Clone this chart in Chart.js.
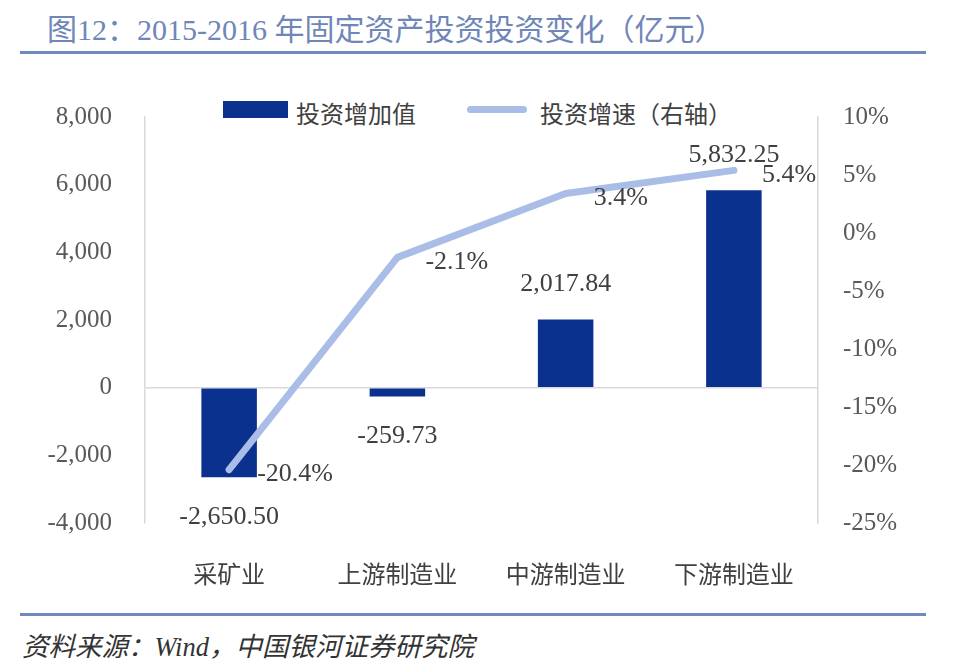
<!DOCTYPE html>
<html>
<head>
<meta charset="utf-8">
<script src="https://cdn.jsdelivr.net/npm/chart.js@4"></script>
<style>
  body { margin: 0; width: 972px; height: 672px; background: #fff; position: relative; overflow: hidden;
         font-family: 'Liberation Serif', 'Noto Sans CJK SC', serif; }
  .title { position: absolute; left: 47px; top: 5px; font-size: 30px; color: #6f86b9; white-space: nowrap; }
  .rule { position: absolute; left: 20px; width: 906px; height: 3px; background: #6f88bd; }
  .source { position: absolute; left: 22px; top: 625px; font-size: 26.5px; font-style: italic; color: #333; white-space: nowrap; }
  .legend { position: absolute; top: 95px; font-size: 24px; color: #404040; white-space: nowrap; }
  .box { position: absolute; left: 223px; top: 101px; width: 65px; height: 17px; background: #0b318f; }
  .ln { position: absolute; left: 467px; top: 106px; width: 60px; height: 7px; border-radius: 4px; background: #a9bde6; }
  #wrap { position: absolute; left: 0; top: 60px; width: 972px; height: 540px; }
</style>
</head>
<body>
<div class="title">图12：2015-2016 年固定资产投资投资变化（亿元）</div>
<div class="rule" style="top:51px"></div>
<div class="box"></div><div class="legend" style="left:296px">投资增加值</div>
<div class="ln"></div><div class="legend" style="left:540px">投资增速（右轴）</div>
<div id="wrap"><canvas id="chart"></canvas></div>
<div class="rule" style="top:613px"></div>
<div class="source">资料来源：Wind，中国银河证券研究院</div>
<script>
const categories = ['采矿业', '上游制造业', '中游制造业', '下游制造业'];
const addedValue = [-2650.50, -259.73, 2017.84, 5832.25];
const growthRate = [-20.4, -2.1, 3.4, 5.4];

const FONT = "'Liberation Serif', 'Noto Sans CJK SC', serif";
const fmt = v => v.toLocaleString('en-US', { minimumFractionDigits: 2, maximumFractionDigits: 2 });

const labelPlugin = {
  id: 'valueLabels',
  afterDatasetsDraw(chart) {
    const ctx = chart.ctx;
    ctx.save();
    ctx.font = '26px ' + FONT;
    ctx.fillStyle = '#404040';
    ctx.textBaseline = 'middle';
    chart.getDatasetMeta(0).data.forEach((el, i) => {
      const v = addedValue[i];
      ctx.textAlign = 'center';
      ctx.fillText(fmt(v), el.x, v >= 0 ? el.y - 35 : Math.max(el.y, el.base) + 40);
    });
    chart.getDatasetMeta(1).data.forEach((el, i) => {
      ctx.textAlign = 'left';
      ctx.fillText(growthRate[i].toFixed(1) + '%', el.x + 28, el.y + 5);
    });
    ctx.restore();
  }
};

new Chart(document.getElementById('chart'), {
  data: {
    labels: categories,
    datasets: [
      {
        type: 'bar',
        label: '投资增加值',
        data: addedValue,
        backgroundColor: '#0b318f',
        barPercentage: 0.33,
        categoryPercentage: 1,
        yAxisID: 'y',
        order: 2
      },
      {
        type: 'line',
        label: '投资增速（右轴）',
        data: growthRate,
        borderColor: '#a9bde6',
        borderWidth: 7,
        borderCapStyle: 'round',
        borderJoinStyle: 'round',
        pointRadius: 0,
        tension: 0,
        yAxisID: 'y1',
        order: 1
      }
    ]
  },
  options: {
    responsive: true,
    maintainAspectRatio: false,
    animation: false,
    layout: { padding: { top: 57, left: 0, right: 0, bottom: 0 } },
    plugins: { legend: { display: false }, tooltip: { enabled: false } },
    scales: {
      x: {
        grid: { display: false },
        border: { display: false },
        ticks: { color: '#404040', font: { family: FONT, size: 24 }, padding: 31 },
        afterFit: s => { s.height = 77; }
      },
      y: {
        position: 'left',
        min: -4000, max: 8000,
        ticks: { stepSize: 2000, color: '#595959', font: { family: FONT, size: 25 }, padding: 33,
                 callback: v => v.toLocaleString('en-US') },
        grid: { color: c => c.tick && c.tick.value === 0 ? '#d9d9d9' : 'transparent', lineWidth: 1.5, drawTicks: false },
        border: { color: '#d9d9d9', width: 1.5 },
        afterFit: s => { s.width = 145; }
      },
      y1: {
        position: 'right',
        min: -25, max: 10,
        ticks: { stepSize: 5, color: '#595959', font: { family: FONT, size: 25 }, padding: 25,
                 callback: v => v + '%' },
        grid: { display: false, drawTicks: false },
        border: { color: '#d9d9d9', width: 1.5 },
        afterFit: s => { s.width = 154; }
      }
    }
  },
  plugins: [labelPlugin]
});
</script>
</body>
</html>
